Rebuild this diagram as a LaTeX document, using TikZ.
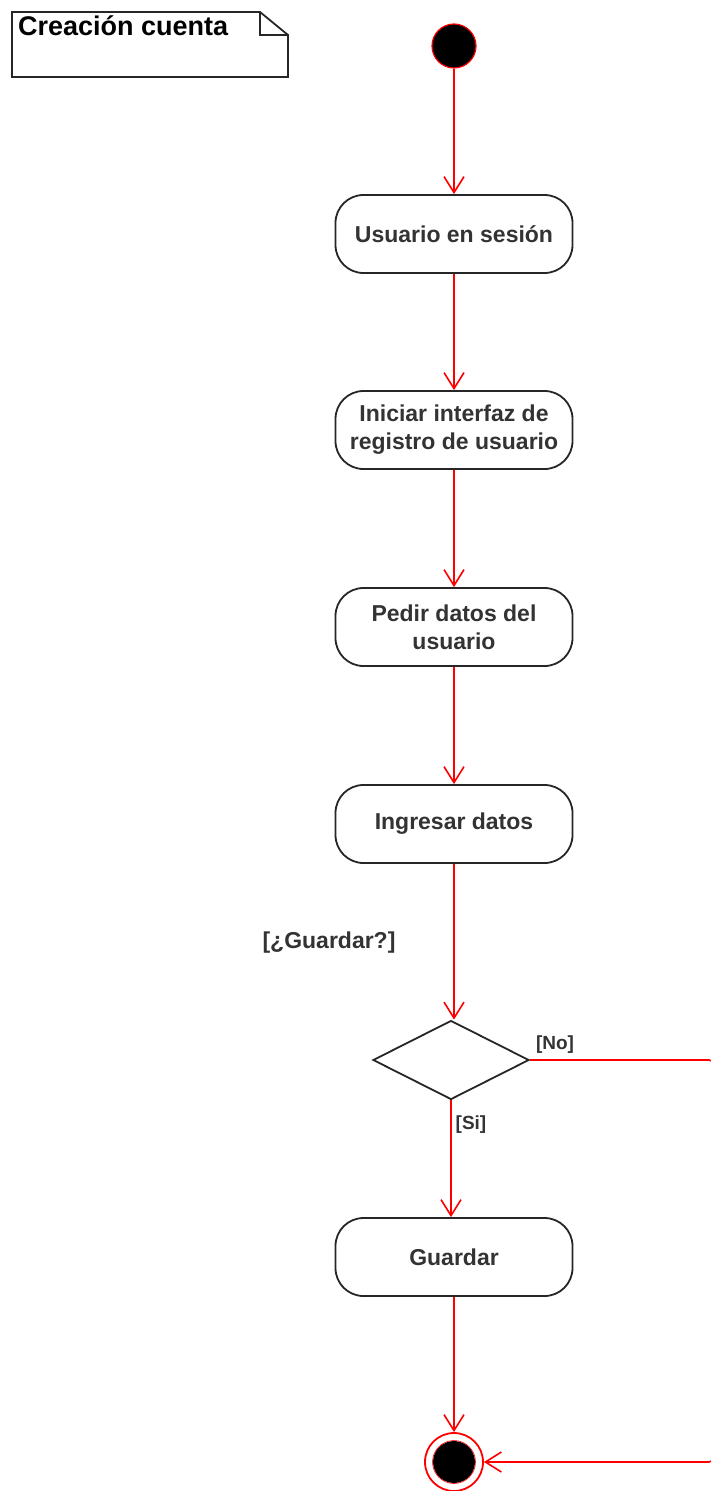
\documentclass[tikz,border=0pt]{standalone}
\usepackage{fontspec}
\setmainfont{Liberation Sans}
\usepackage{tikz}
\usetikzlibrary{arrows.meta,shapes.geometric}
\definecolor{flowRed} {rgb}{1.0,0.0,0.0}
\definecolor{txtGray} {rgb}{0.2,0.2,0.2}

\begin{document}
\begin{tikzpicture}
[x=1pt, y=-1pt, >={Straight Barb[length=16pt,width=20pt]},
  activity/.style = { draw = black!85, line width = 1.8pt, rounded corners = 28pt,
                      minimum width = 237pt, minimum height = 78pt, align = center,
                      text = txtGray, font = \fontsize{23}{28}\selectfont\bfseries },
  flow/.style     = { draw = flowRed, line width = 1.6pt, -> },
  guard/.style    = { text = txtGray, font = \fontsize{19}{22}\selectfont\bfseries, inner sep = 0pt }
]

% Page:
\useasboundingbox (0,0) rectangle (710,1491);

% Note with folded corner:
\draw[line width = 1.8pt, black!85] (12,12) -- (260,12) -- (288,35) -- (288,77) -- (12,77) -- cycle;
\draw[line width = 1.2pt, black!85] (260,12) -- (260,35) -- (288,35);
\node[anchor = base west, inner sep = 0pt, font = \fontsize{27}{30}\selectfont\bfseries] (title)
  at (18,35) {Creación cuenta};

% Start:
\node[circle, draw = flowRed, fill = black, line width = 1.2pt, minimum size = 44pt, inner sep = 0pt]
  (start) at (454,46) {};

% Activities:
\node[activity] (sesion)   at (454, 234) {Usuario en sesión};
\node[activity] (interfaz) at (454, 430) {Iniciar interfaz de\\registro de usuario};
\node[activity] (pedir)    at (454, 627) {Pedir datos del\\usuario};
\node[activity] (ingresar) at (454, 824) {Ingresar datos};
\node[activity] (guardar)  at (454,1257) {Guardar};

% Decision:
\node[diamond, draw = black!85, line width = 1.8pt, aspect = 2,
      minimum width = 156pt, minimum height = 79pt, inner sep = 0pt] (dec) at (451,1060) {};

% End:
\node[circle, draw = flowRed, line width = 1.8pt, minimum size = 58pt, inner sep = 0pt]
  (fin) at (454,1462) {};
\fill[black] (fin.center) circle (21);
\draw[flowRed, line width = 0.6pt] (fin.center) circle (21.5);

% Flows:
\draw[flow] (start)    -- (sesion);
\draw[flow] (sesion)   -- (interfaz);
\draw[flow] (interfaz) -- (pedir);
\draw[flow] (pedir)    -- (ingresar);
\draw[flow] (ingresar) -- (ingresar.south |- dec.north);
\draw[flow] (dec.south) -- (dec.south |- guardar.north);
\draw[flow] (guardar)  -- (fin);

% No branch (runs off the right edge):
\coordinate (noTop) at (713,1060);
\coordinate (noBot) at (713,1462);
\draw[flow, rounded corners = 4pt] (dec.east) -- (noTop) -- (noBot) -- (fin.east);

% Guards:
\node[guard, font = \fontsize{23}{26}\selectfont\bfseries] (pregunta) at (329, 943) {[¿Guardar?]};
\node[guard] (no) at (555,1045) {[No]};
\node[guard] (si) at (471,1125) {[Si]};
\end{tikzpicture}
\end{document}
